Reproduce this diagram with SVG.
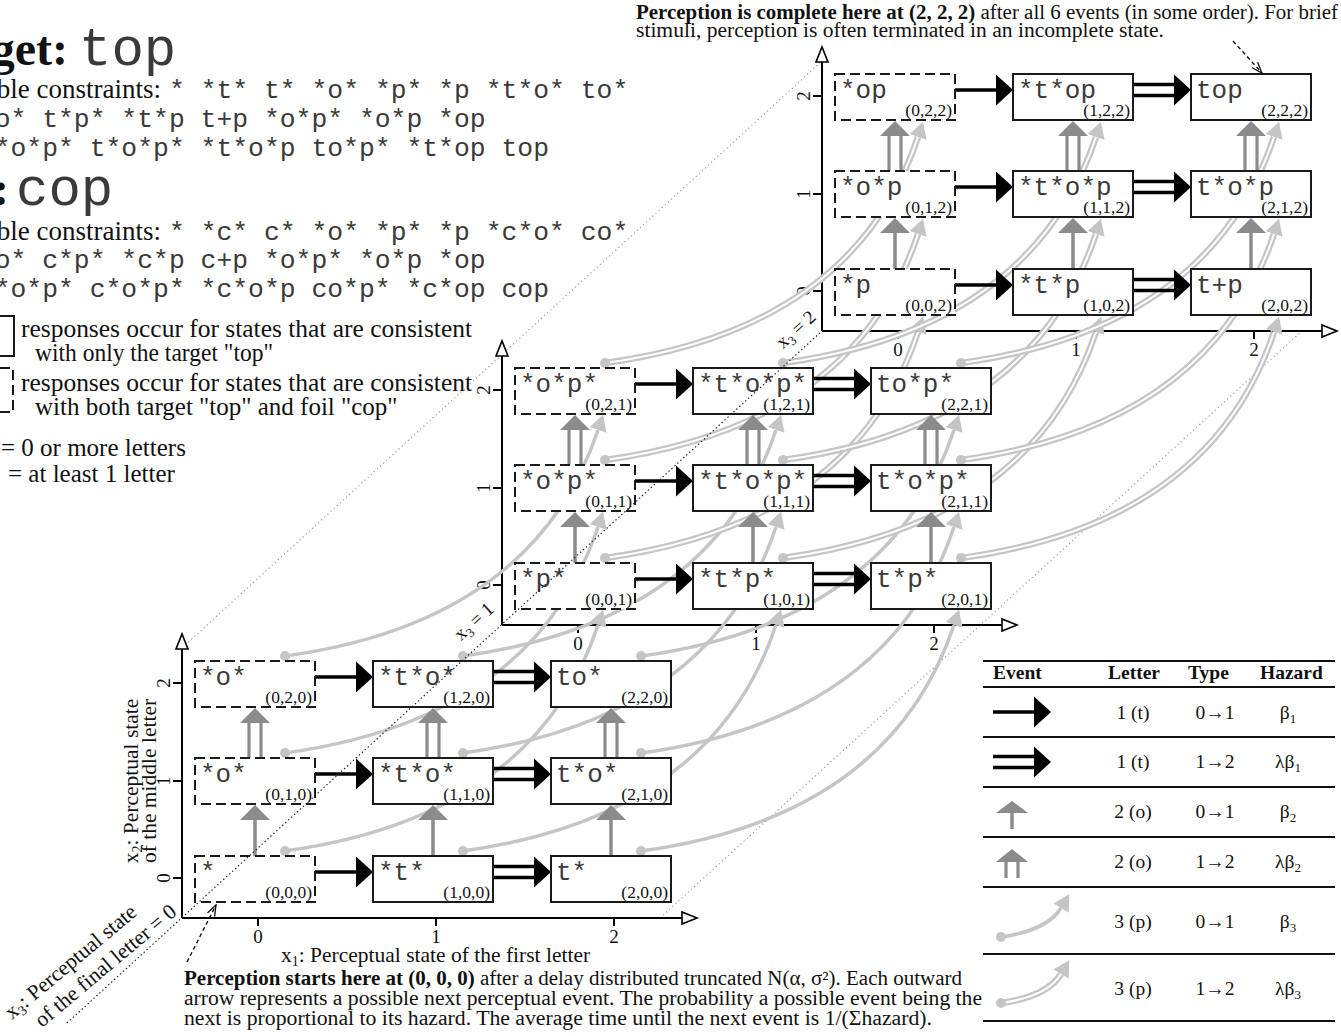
<svg xmlns="http://www.w3.org/2000/svg" width="1341" height="1036" viewBox="0 0 1341 1036">
<style>
.sf{font-family:"Liberation Serif",serif;fill:#111}
.mf{font-family:"Liberation Mono",monospace;fill:#3a3a3a}
.box{fill:#fff;stroke:#1a1a1a;stroke-width:2}
.dbox{fill:#fff;stroke:#1a1a1a;stroke-width:2;stroke-dasharray:10 5}
.lab{font-family:"Liberation Mono",monospace;font-size:26px;fill:#3a3a3a}
.crd{font-family:"Liberation Serif",serif;font-size:17.5px;text-anchor:end;fill:#111}
.ax{stroke:#000;stroke-width:2;fill:none}
.ah{fill:#fff;stroke:#000;stroke-width:1.6}
.tk{font-family:"Liberation Serif",serif;font-size:19px;text-anchor:middle;fill:#111}
.tl{stroke:#000;stroke-width:2;fill:none}
.tb{stroke:#111;stroke-width:2}
.td{font-family:"Liberation Serif",serif;font-size:19.5px;fill:#111;text-anchor:middle}
.th{font-family:"Liberation Serif",serif;font-size:19.5px;font-weight:bold;fill:#111}
.dot1{stroke:#9a9a9a;stroke-width:1.2;stroke-dasharray:1.2 3;fill:none}
.dot2{stroke:#222;stroke-width:1.2;stroke-dasharray:1.4 2.6;fill:none}
.dsh{stroke:#111;stroke-width:1.4;stroke-dasharray:4 3;fill:none}
</style>
<defs>
<marker id="pa" markerUnits="userSpaceOnUse" markerWidth="16" markerHeight="18" viewBox="0 0 16 18" refX="0" refY="9" orient="auto"><path d="M0,0L16,9L0,18Z" fill="#c5c5c5"/></marker>
<marker id="op" markerUnits="userSpaceOnUse" markerWidth="12" markerHeight="10" viewBox="0 0 12 10" refX="11" refY="5" orient="auto"><path d="M0,1L11,5L0,9" fill="none" stroke="#111" stroke-width="1.3"/></marker>
<g id="pc1"><path d="M0,0 C175,-24 273,-106 313,-226" fill="none" stroke="#c5c5c5" stroke-width="3.5" marker-end="url(#pa)"/><circle r="5" fill="#c5c5c5"/></g>
<g id="pc2"><path d="M0,0 C175,-24 273,-106 313,-226" fill="none" stroke="#c5c5c5" stroke-width="6.5" marker-end="url(#pa)"/><path d="M0,0 C175,-24 273,-106 313,-226" fill="none" stroke="#fff" stroke-width="2"/><circle r="5" fill="#c5c5c5"/></g>
<g id="t1"><line x1="0" y1="0" x2="42" y2="0" stroke="#000" stroke-width="3.5"/><polygon points="41,-15.5 58,0 41,15.5" fill="#000"/></g>
<g id="t2"><line x1="0" y1="-5.5" x2="44" y2="-5.5" stroke="#000" stroke-width="3.5"/><line x1="0" y1="5.5" x2="44" y2="5.5" stroke="#000" stroke-width="3.5"/><polygon points="41,-15.5 58,0 41,15.5" fill="#000"/></g>
<g id="o1"><line x1="0" y1="0" x2="0" y2="-37" stroke="#8b8b8b" stroke-width="3.5"/><polygon points="-15,-36 15,-36 0,-51" fill="#8b8b8b"/></g>
<g id="o2"><line x1="-6" y1="0" x2="-6" y2="-36" stroke="#8b8b8b" stroke-width="3.2"/><line x1="6" y1="0" x2="6" y2="-36" stroke="#8b8b8b" stroke-width="3.2"/><polygon points="-15,-35 15,-35 0,-50" fill="#8b8b8b"/></g>
</defs>
<rect width="1341" height="1036" fill="#fff"/>

<g id="guides-back">
<line class="dot1" x1="182" y1="648" x2="822" y2="61"/>
<line class="dot1" x1="660" y1="918" x2="1303" y2="330"/>
</g>

<g id="axes">
<g id="axes0">
<line class="ax" x1="182" y1="918" x2="182" y2="649"/>
<polygon class="ah" points="176,649 188,649 182,634"/>
<line class="ax" x1="182" y1="918" x2="682" y2="918"/>
<polygon class="ah" points="682,912 682,924 697,918"/>
<path class="tl" d="M258,918v8M436,918v8M614,918v8M182,683h-9M182,781h-9M182,878h-9"/>
<text class="tk" x="258" y="943">0</text>
<text class="tk" x="436" y="943">1</text>
<text class="tk" x="614" y="943">2</text>
<text class="tk" transform="translate(170,878) rotate(-90)">0</text>
<text class="tk" transform="translate(170,781) rotate(-90)">1</text>
<text class="tk" transform="translate(170,683) rotate(-90)">2</text>
</g>
<use href="#axes0" transform="translate(320,-293)"/>
<use href="#axes0" transform="translate(640,-587)"/>
</g>

<g id="connectors">
<g id="p-events-0to1">
<use href="#pc1" x="285" y="851"/><use href="#pc1" x="463" y="851"/><use href="#pc1" x="641" y="851"/>
<use href="#pc1" x="285" y="753"/><use href="#pc1" x="463" y="753"/><use href="#pc1" x="641" y="753"/>
<use href="#pc1" x="285" y="656"/><use href="#pc1" x="463" y="656"/><use href="#pc1" x="641" y="656"/>
</g>
<g id="p-events-1to2">
<use href="#pc2" x="605" y="558"/><use href="#pc2" x="783" y="558"/><use href="#pc2" x="961" y="558"/>
<use href="#pc2" x="605" y="460"/><use href="#pc2" x="783" y="460"/><use href="#pc2" x="961" y="460"/>
<use href="#pc2" x="605" y="363"/><use href="#pc2" x="783" y="363"/><use href="#pc2" x="961" y="363"/>
</g>
<g id="t-events">
<use href="#t1" x="315" y="872"/><use href="#t2" x="493" y="872"/>
<use href="#t1" x="315" y="774"/><use href="#t2" x="493" y="774"/>
<use href="#t1" x="315" y="677"/><use href="#t2" x="493" y="677"/>
<use href="#t1" x="635" y="579"/><use href="#t2" x="813" y="579"/>
<use href="#t1" x="635" y="481"/><use href="#t2" x="813" y="481"/>
<use href="#t1" x="635" y="384"/><use href="#t2" x="813" y="384"/>
<use href="#t1" x="955" y="285"/><use href="#t2" x="1133" y="285"/>
<use href="#t1" x="955" y="187"/><use href="#t2" x="1133" y="187"/>
<use href="#t1" x="955" y="90"/><use href="#t2" x="1133" y="90"/>
</g>
<g id="o-events">
<use href="#o1" x="255" y="856"/><use href="#o2" x="255" y="758"/>
<use href="#o1" x="433" y="856"/><use href="#o2" x="433" y="758"/>
<use href="#o1" x="611" y="856"/><use href="#o2" x="611" y="758"/>
<use href="#o1" x="575" y="563"/><use href="#o2" x="575" y="465"/>
<use href="#o1" x="753" y="563"/><use href="#o2" x="753" y="465"/>
<use href="#o1" x="931" y="563"/><use href="#o2" x="931" y="465"/>
<use href="#o1" x="895" y="269"/><use href="#o2" x="895" y="171"/>
<use href="#o1" x="1073" y="269"/><use href="#o2" x="1073" y="171"/>
<use href="#o1" x="1251" y="269"/><use href="#o2" x="1251" y="171"/>
</g>
</g>

<g id="nodes">
<g id="n000"><rect class="dbox" x="195" y="856" width="120" height="46"/><text class="lab" x="200" y="880">*</text><text class="crd" x="312" y="898">(0,0,0)</text></g>
<g id="n100"><rect class="box" x="373" y="856" width="120" height="46"/><text class="lab" x="378" y="880">*t*</text><text class="crd" x="490" y="898">(1,0,0)</text></g>
<g id="n200"><rect class="box" x="551" y="856" width="120" height="46"/><text class="lab" x="556" y="880">t*</text><text class="crd" x="668" y="898">(2,0,0)</text></g>
<g id="n010"><rect class="dbox" x="195" y="758" width="120" height="46"/><text class="lab" x="200" y="782">*o*</text><text class="crd" x="312" y="800">(0,1,0)</text></g>
<g id="n110"><rect class="box" x="373" y="758" width="120" height="46"/><text class="lab" x="378" y="782">*t*o*</text><text class="crd" x="490" y="800">(1,1,0)</text></g>
<g id="n210"><rect class="box" x="551" y="758" width="120" height="46"/><text class="lab" x="556" y="782">t*o*</text><text class="crd" x="668" y="800">(2,1,0)</text></g>
<g id="n020"><rect class="dbox" x="195" y="661" width="120" height="46"/><text class="lab" x="200" y="685">*o*</text><text class="crd" x="312" y="703">(0,2,0)</text></g>
<g id="n120"><rect class="box" x="373" y="661" width="120" height="46"/><text class="lab" x="378" y="685">*t*o*</text><text class="crd" x="490" y="703">(1,2,0)</text></g>
<g id="n220"><rect class="box" x="551" y="661" width="120" height="46"/><text class="lab" x="556" y="685">to*</text><text class="crd" x="668" y="703">(2,2,0)</text></g>

<g id="n001"><rect class="dbox" x="515" y="563" width="120" height="46"/><text class="lab" x="520" y="587">*p*</text><text class="crd" x="632" y="605">(0,0,1)</text></g>
<g id="n101"><rect class="box" x="693" y="563" width="120" height="46"/><text class="lab" x="698" y="587">*t*p*</text><text class="crd" x="810" y="605">(1,0,1)</text></g>
<g id="n201"><rect class="box" x="871" y="563" width="120" height="46"/><text class="lab" x="876" y="587">t*p*</text><text class="crd" x="988" y="605">(2,0,1)</text></g>
<g id="n011"><rect class="dbox" x="515" y="465" width="120" height="46"/><text class="lab" x="520" y="489">*o*p*</text><text class="crd" x="632" y="507">(0,1,1)</text></g>
<g id="n111"><rect class="box" x="693" y="465" width="120" height="46"/><text class="lab" x="698" y="489">*t*o*p*</text><text class="crd" x="810" y="507">(1,1,1)</text></g>
<g id="n211"><rect class="box" x="871" y="465" width="120" height="46"/><text class="lab" x="876" y="489">t*o*p*</text><text class="crd" x="988" y="507">(2,1,1)</text></g>
<g id="n021"><rect class="dbox" x="515" y="368" width="120" height="46"/><text class="lab" x="520" y="392">*o*p*</text><text class="crd" x="632" y="410">(0,2,1)</text></g>
<g id="n121"><rect class="box" x="693" y="368" width="120" height="46"/><text class="lab" x="698" y="392">*t*o*p*</text><text class="crd" x="810" y="410">(1,2,1)</text></g>
<g id="n221"><rect class="box" x="871" y="368" width="120" height="46"/><text class="lab" x="876" y="392">to*p*</text><text class="crd" x="988" y="410">(2,2,1)</text></g>

<g id="n002"><rect class="dbox" x="835" y="269" width="120" height="46"/><text class="lab" x="840" y="293">*p</text><text class="crd" x="952" y="311">(0,0,2)</text></g>
<g id="n102"><rect class="box" x="1013" y="269" width="120" height="46"/><text class="lab" x="1018" y="293">*t*p</text><text class="crd" x="1130" y="311">(1,0,2)</text></g>
<g id="n202"><rect class="box" x="1191" y="269" width="120" height="46"/><text class="lab" x="1196" y="293">t+p</text><text class="crd" x="1308" y="311">(2,0,2)</text></g>
<g id="n012"><rect class="dbox" x="835" y="171" width="120" height="46"/><text class="lab" x="840" y="195">*o*p</text><text class="crd" x="952" y="213">(0,1,2)</text></g>
<g id="n112"><rect class="box" x="1013" y="171" width="120" height="46"/><text class="lab" x="1018" y="195">*t*o*p</text><text class="crd" x="1130" y="213">(1,1,2)</text></g>
<g id="n212"><rect class="box" x="1191" y="171" width="120" height="46"/><text class="lab" x="1196" y="195">t*o*p</text><text class="crd" x="1308" y="213">(2,1,2)</text></g>
<g id="n022"><rect class="dbox" x="835" y="74" width="120" height="46"/><text class="lab" x="840" y="98">*op</text><text class="crd" x="952" y="116">(0,2,2)</text></g>
<g id="n122"><rect class="box" x="1013" y="74" width="120" height="46"/><text class="lab" x="1018" y="98">*t*op</text><text class="crd" x="1130" y="116">(1,2,2)</text></g>
<g id="n222"><rect class="box" x="1191" y="74" width="120" height="46"/><text class="lab" x="1196" y="98">top</text><text class="crd" x="1308" y="116">(2,2,2)</text></g>
</g>

<g id="guides-front">
<line class="dot2" x1="67" y1="1023" x2="822" y2="331"/>
</g>

<g id="axis-titles">
<text class="sf" font-size="21.5" text-anchor="middle" transform="translate(138,781) rotate(-90)">x<tspan font-size="14" dy="4">2</tspan><tspan dy="-4">: Perceptual state</tspan></text>
<text class="sf" font-size="21.5" text-anchor="middle" transform="translate(156,781) rotate(-90)">of the middle letter</text>
<text class="sf" font-size="21.5" transform="translate(12,1020) rotate(-40)">x<tspan font-size="14" dy="4">3</tspan><tspan dy="-4">: Perceptual state</tspan></text>
<text class="sf" font-size="21.5" transform="translate(42,1028) rotate(-40)">of the final letter = 0</text>
<text class="sf" font-size="19" text-anchor="middle" transform="translate(478,626) rotate(-42)">x<tspan font-size="13" dy="4">3</tspan><tspan dy="-4"> = 1</tspan></text>
<text class="sf" font-size="19" text-anchor="middle" transform="translate(800,334) rotate(-42)">x<tspan font-size="13" dy="4">3</tspan><tspan dy="-4"> = 2</tspan></text>
<text class="sf" font-size="21.5" x="281" y="962">x<tspan font-size="14" dy="4">1</tspan><tspan dy="-4">: Perceptual state of the first letter</tspan></text>
</g>

<g id="header-text">
<text class="sf" font-size="48" font-weight="bold" text-anchor="end" x="68" y="65">Target:</text>
<text class="mf" font-size="54" x="79" y="65">top</text>
<text class="sf" font-size="27" text-anchor="end" x="161" y="98">Possible constraints:</text>
<text class="mf" font-size="26.4" x="169" y="98">* *t* t* *o* *p* *p *t*o* to*</text>
<text class="mf" font-size="26.4" x="-37" y="127">t*o* t*p* *t*p t+p *o*p* *o*p *op</text>
<text class="mf" font-size="26.4" x="-37" y="156">*t*o*p* t*o*p* *t*o*p to*p* *t*op top</text>
<text class="sf" font-size="48" font-weight="bold" text-anchor="end" x="9" y="205">Foil:</text>
<text class="mf" font-size="54" x="16" y="205">cop</text>
<text class="sf" font-size="27" text-anchor="end" x="161" y="240">Possible constraints:</text>
<text class="mf" font-size="26.4" x="169" y="240">* *c* c* *o* *p* *p *c*o* co*</text>
<text class="mf" font-size="26.4" x="-37" y="268">c*o* c*p* *c*p c+p *o*p* *o*p *op</text>
<text class="mf" font-size="26.4" x="-37" y="297">*c*o*p* c*o*p* *c*o*p co*p* *c*op cop</text>
</g>

<g id="box-legend">
<rect class="box" x="-30" y="316" width="44" height="40"/>
<text class="sf" font-size="25" x="21" y="337" textLength="451" lengthAdjust="spacingAndGlyphs">responses occur for states that are consistent</text>
<text class="sf" font-size="25" x="35" y="361" textLength="238" lengthAdjust="spacingAndGlyphs">with only the target "top"</text>
<rect class="dbox" x="-30" y="368" width="43" height="44"/>
<text class="sf" font-size="25" x="21" y="391" textLength="451" lengthAdjust="spacingAndGlyphs">responses occur for states that are consistent</text>
<text class="sf" font-size="25" x="35" y="415">with both target "top" and foil "cop"</text>
<text class="sf" font-size="25" x="1" y="456">= 0 or more letters</text>
<text class="sf" font-size="25" x="8" y="482">= at least 1 letter</text>
</g>

<g id="notes">
<text class="sf" font-size="20" x="636" y="19" textLength="702" lengthAdjust="spacingAndGlyphs"><tspan font-weight="bold">Perception is complete here at (2, 2, 2)</tspan> after all 6 events (in some order). For brief</text>
<text class="sf" font-size="20" x="636" y="37" textLength="528" lengthAdjust="spacingAndGlyphs">stimuli, perception is often terminated in an incomplete state.</text>
<line class="dsh" x1="1233" y1="41" x2="1262" y2="73" marker-end="url(#op)"/>
<text class="sf" font-size="20" x="184" y="985" textLength="778" lengthAdjust="spacingAndGlyphs"><tspan font-weight="bold">Perception starts here at (0, 0, 0)</tspan> after a delay distributed truncated N(α, σ²). Each outward</text>
<text class="sf" font-size="20" x="184" y="1005" textLength="798" lengthAdjust="spacingAndGlyphs">arrow represents a possible next perceptual event. The probability a possible event being the</text>
<text class="sf" font-size="20" x="184" y="1025" textLength="748" lengthAdjust="spacingAndGlyphs">next is proportional to its hazard. The average time until the next event is 1/(Σhazard).</text>
<line class="dsh" x1="187" y1="962" x2="216" y2="905" marker-end="url(#op)"/>
</g>

<g id="event-table">
<line class="tb" x1="983" y1="661" x2="1335" y2="661" stroke-width="2.5"/>
<line class="tb" x1="983" y1="687" x2="1335" y2="687"/>
<line class="tb" x1="983" y1="737" x2="1335" y2="737"/>
<line class="tb" x1="983" y1="787" x2="1335" y2="787"/>
<line class="tb" x1="983" y1="837" x2="1335" y2="837"/>
<line class="tb" x1="983" y1="887" x2="1335" y2="887"/>
<line class="tb" x1="983" y1="954" x2="1335" y2="954"/>
<line class="tb" x1="983" y1="1021" x2="1335" y2="1021"/>
<text class="th" x="993" y="679">Event</text>
<text class="th" x="1108" y="679">Letter</text>
<text class="th" x="1188" y="679">Type</text>
<text class="th" x="1260" y="679">Hazard</text>
<use href="#t1" x="993" y="712"/>
<use href="#t2" x="993" y="762"/>
<line x1="1012" y1="829" x2="1012" y2="812" stroke="#8b8b8b" stroke-width="3.5"/>
<polygon points="996,813 1028,813 1012,801" fill="#8b8b8b"/>
<line x1="1006" y1="878" x2="1006" y2="861" stroke="#8b8b8b" stroke-width="3.2"/>
<line x1="1018" y1="878" x2="1018" y2="861" stroke="#8b8b8b" stroke-width="3.2"/>
<polygon points="996,862 1028,862 1012,849" fill="#8b8b8b"/>
<path d="M1001,937 C1030,933 1052,923 1061,908" fill="none" stroke="#c5c5c5" stroke-width="3.5" marker-end="url(#pa)"/>
<circle cx="1001" cy="937" r="5" fill="#c5c5c5"/>
<path d="M1001,1003 C1030,999 1052,989 1061,974" fill="none" stroke="#c5c5c5" stroke-width="6.5" marker-end="url(#pa)"/>
<path d="M1001,1003 C1030,999 1052,989 1061,974" fill="none" stroke="#fff" stroke-width="2"/>
<circle cx="1001" cy="1003" r="5" fill="#c5c5c5"/>
<text class="td" x="1133" y="719">1 (t)</text><text class="td" x="1215" y="719">0→1</text><text class="td" x="1288" y="719">β<tspan font-size="13" dy="4">1</tspan></text>
<text class="td" x="1133" y="768">1 (t)</text><text class="td" x="1215" y="768">1→2</text><text class="td" x="1288" y="768">λβ<tspan font-size="13" dy="4">1</tspan></text>
<text class="td" x="1133" y="818">2 (o)</text><text class="td" x="1215" y="818">0→1</text><text class="td" x="1288" y="818">β<tspan font-size="13" dy="4">2</tspan></text>
<text class="td" x="1133" y="868">2 (o)</text><text class="td" x="1215" y="868">1→2</text><text class="td" x="1288" y="868">λβ<tspan font-size="13" dy="4">2</tspan></text>
<text class="td" x="1133" y="928">3 (p)</text><text class="td" x="1215" y="928">0→1</text><text class="td" x="1288" y="928">β<tspan font-size="13" dy="4">3</tspan></text>
<text class="td" x="1133" y="995">3 (p)</text><text class="td" x="1215" y="995">1→2</text><text class="td" x="1288" y="995">λβ<tspan font-size="13" dy="4">3</tspan></text>
</g>
</svg>
